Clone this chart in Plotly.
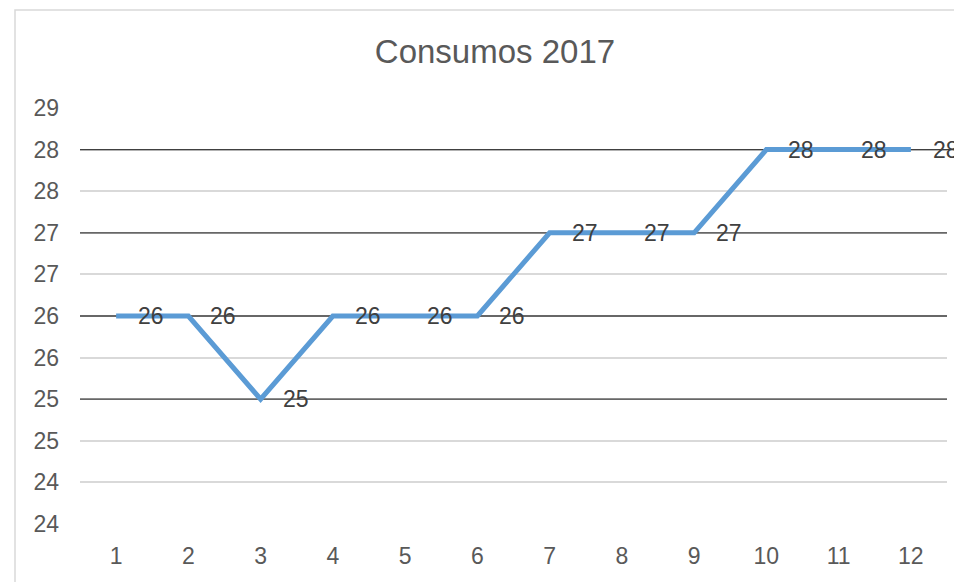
import plotly.graph_objects as go

# Monthly consumption for 2017
months = [1, 2, 3, 4, 5, 6, 7, 8, 9, 10, 11, 12]
consumo = [26, 26, 25, 26, 26, 26, 27, 27, 27, 28, 28, 28]

# Axis ticks every half unit, labels rounded half-up to whole numbers
y_ticks = [23.5, 24, 24.5, 25, 25.5, 26, 26.5, 27, 27.5, 28, 28.5]
y_labels = ["24", "24", "25", "25", "26", "26", "27", "27", "28", "28", "29"]

W, H = 954, 582
L, R, T, B = 80, 7, 108, 58
FONT = "Liberation Sans, Arial, sans-serif"
TICK_COLOR = "#595959"
LABEL_COLOR = "#404040"
X_RANGE = [0.5, 12.5]

fig = go.Figure()
fig.add_trace(go.Scatter(
    x=months, y=consumo, mode="lines",
    line=dict(color="#5B9BD5", width=5),
    hoverinfo="x+y", showlegend=False,
))

# Value labels to the right of each point
for m, v in zip(months, consumo):
    fig.add_annotation(
        x=m, y=v, text=str(v), showarrow=False,
        xanchor="left", yanchor="middle", xshift=20,
        font=dict(family=FONT, size=23, color=LABEL_COLOR),
    )

# Dark reference lines at each level the series reaches
levels = sorted(set(consumo))
for lv in levels:
    fig.add_shape(
        type="line", xref="x", yref="y",
        x0=X_RANGE[0], x1=X_RANGE[1], y0=lv, y1=lv,
        line=dict(color="#404040", width=1.3), layer="between",
    )
# the top level line runs on past the plot edge
pw, ph = W - L - R, H - T - B
fig.add_shape(
    type="line", xref="paper", yref="y",
    x0=1, x1=(W - L + 10) / pw, y0=max(levels), y1=max(levels),
    line=dict(color="#404040", width=1.3), layer="above",
)

# Light chart-area border (extends past the visible window on right/bottom)
fig.add_shape(
    type="rect", xref="paper", yref="paper",
    x0=(15 - L) / pw, x1=(W + 20 - L) / pw,
    y0=-(B + 20) / ph, y1=1 + (T - 10) / ph,
    line=dict(color="#d9d9d9", width=1.5), fillcolor="rgba(0,0,0,0)",
    layer="below",
)

fig.update_layout(
    width=W, height=H,
    margin=dict(l=L, r=R, t=T, b=B),
    paper_bgcolor="white", plot_bgcolor="white",
    font=dict(family=FONT, color=TICK_COLOR),
    title=dict(
        text="Consumos 2017", x=495 / W, xref="container",
        y=1 - 51 / H, yref="container", xanchor="center", yanchor="middle",
        font=dict(family=FONT, size=33, color=TICK_COLOR),
    ),
    xaxis=dict(
        range=X_RANGE, tickmode="array", tickvals=months,
        ticktext=[str(m) for m in months],
        showgrid=False, zeroline=False, showline=False, ticks="",
        tickfont=dict(family=FONT, size=23, color=TICK_COLOR),
        ticklabelstandoff=16,
    ),
    yaxis=dict(
        range=[23.5, 28.5], tickmode="array", tickvals=y_ticks, ticktext=y_labels,
        showgrid=True, gridcolor="#d9d9d9", gridwidth=1.5,
        zeroline=False, showline=False, ticks="",
        tickfont=dict(family=FONT, size=23, color=TICK_COLOR),
        ticklabelstandoff=20,
    ),
)

fig.write_html("out.html")
